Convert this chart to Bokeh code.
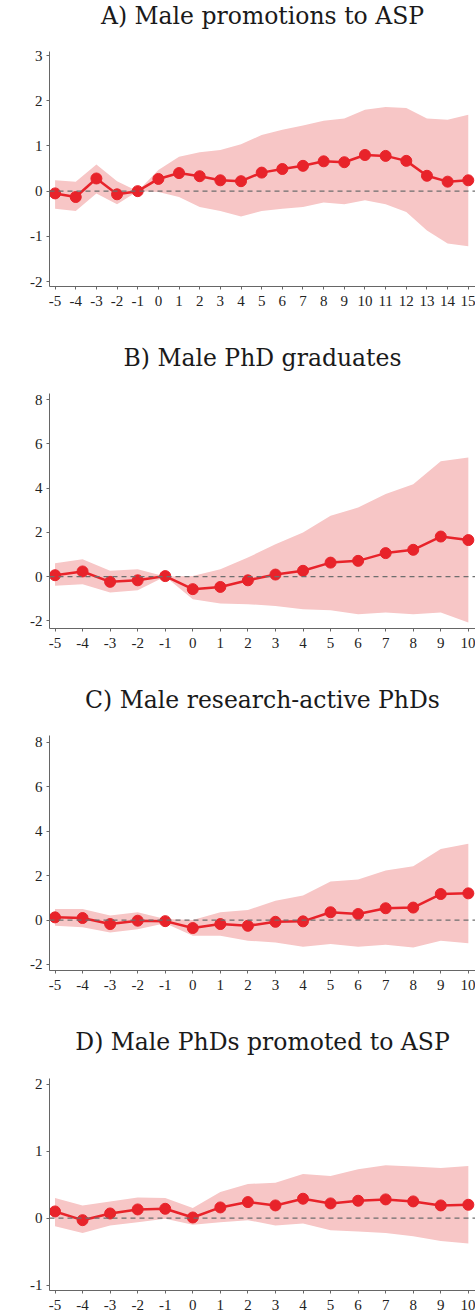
from bokeh.plotting import figure
from bokeh.layouts import column
from bokeh.models import FixedTicker, Span, ColumnDataSource, Title
from bokeh.embed import file_html
from bokeh.resources import INLINE

# ---------------- data ----------------
titles = ["A) Male promotions to ASP", "B) Male PhD graduates",
          "C) Male research-active PhDs", "D) Male PhDs promoted to ASP"]

years_a = [-5, -4, -3, -2, -1, 0, 1, 2, 3, 4, 5, 6, 7, 8, 9, 10, 11, 12, 13, 14, 15]
coef_a = [-0.05, -0.13, 0.28, -0.07, 0.0, 0.27, 0.40, 0.33, 0.24, 0.22, 0.41,
          0.49, 0.56, 0.66, 0.64, 0.80, 0.78, 0.67, 0.34, 0.21, 0.24]
upper_a = [0.24, 0.21, 0.59, 0.22, 0.0, 0.47, 0.76, 0.86, 0.91, 1.04, 1.24,
           1.36, 1.45, 1.56, 1.61, 1.80, 1.86, 1.84, 1.61, 1.58, 1.69]
lower_a = [-0.39, -0.44, -0.05, -0.29, 0.0, -0.02, -0.13, -0.35, -0.44, -0.56, -0.44,
           -0.39, -0.35, -0.25, -0.29, -0.20, -0.29, -0.46, -0.87, -1.16, -1.22]

years_b = [-5, -4, -3, -2, -1, 0, 1, 2, 3, 4, 5, 6, 7, 8, 9, 10]
coef_b = [0.06, 0.23, -0.24, -0.17, 0.02, -0.57, -0.47, -0.17, 0.09, 0.26,
          0.63, 0.71, 1.06, 1.21, 1.81, 1.65]
upper_b = [0.60, 0.78, 0.26, 0.33, 0.0, 0.03, 0.33, 0.86, 1.46, 1.99,
           2.75, 3.12, 3.73, 4.18, 5.21, 5.39]
lower_b = [-0.42, -0.35, -0.72, -0.62, 0.0, -1.03, -1.22, -1.25, -1.33, -1.48,
           -1.52, -1.71, -1.63, -1.71, -1.63, -2.08]

years_c = [-5, -4, -3, -2, -1, 0, 1, 2, 3, 4, 5, 6, 7, 8, 9, 10]
coef_c = [0.12, 0.09, -0.18, -0.03, -0.05, -0.36, -0.18, -0.26, -0.08, -0.06,
          0.35, 0.27, 0.53, 0.56, 1.17, 1.20]
upper_c = [0.50, 0.50, 0.20, 0.35, 0.05, 0.0, 0.35, 0.45, 0.87, 1.10,
           1.73, 1.82, 2.23, 2.42, 3.20, 3.43]
lower_c = [-0.26, -0.33, -0.56, -0.41, -0.15, -0.71, -0.71, -0.93, -1.01, -1.20,
           -1.08, -1.20, -1.11, -1.23, -0.93, -1.04]

years_d = [-5, -4, -3, -2, -1, 0, 1, 2, 3, 4, 5, 6, 7, 8, 9, 10]
coef_d = [0.10, -0.03, 0.07, 0.13, 0.14, 0.01, 0.16, 0.24, 0.19, 0.29,
          0.22, 0.26, 0.28, 0.25, 0.19, 0.20]
upper_d = [0.30, 0.19, 0.25, 0.31, 0.30, 0.15, 0.39, 0.51, 0.53, 0.66,
           0.63, 0.73, 0.79, 0.77, 0.75, 0.78]
lower_d = [-0.12, -0.22, -0.11, -0.06, -0.01, -0.10, -0.06, -0.03, -0.11, -0.08,
           -0.18, -0.20, -0.22, -0.27, -0.34, -0.38]

yticks_a = [-2, -1, 0, 1, 2, 3]
yticks_b = [-2, 0, 2, 4, 6, 8]
yticks_c = [-2, 0, 2, 4, 6, 8]
yticks_d = [-1, 0, 1, 2]

BAND = "#f7c6c6"
RED = "#e8232a"
AXIS = "#666666"


def lbl(ticks):
    return {t: str(t) for t in ticks}


def panel(title, xs, coef, up, lo, xrng, yrng, yticks, height, gap, bottom):
    p = figure(width=475, height=height, x_range=xrng, y_range=yrng,
               output_backend="svg", toolbar_location=None, title=None,
               min_border_left=49, min_border_right=0, min_border_top=0,
               min_border_bottom=bottom)
    # spacer between frame and title (added first -> closest to frame)
    p.add_layout(Title(text=" ", text_font_size="1px", standoff=gap), "above")
    t = Title(text=title, align="center", vertical_align="top",
              text_font="DejaVu Serif", text_font_style="normal",
              text_font_size="23.5px", text_color="#1a1a1a", standoff=3)
    p.add_layout(t, "above")
    p.outline_line_color = None
    p.xgrid.visible = False
    p.ygrid.visible = False
    p.background_fill_color = "white"
    p.border_fill_color = "white"

    src = ColumnDataSource(dict(x=xs, y=coef, up=up, lo=lo))
    p.varea(x="x", y1="lo", y2="up", source=src, fill_color=BAND, fill_alpha=1.0)
    p.add_layout(Span(location=0, dimension="width", line_color="#6e6e6e",
                      line_dash="5 4", line_width=1.3))
    p.line(x="x", y="y", source=src, line_color=RED, line_width=2.5)
    p.scatter(x="x", y="y", source=src, size=11, fill_color=RED,
              line_color=RED, marker="circle")

    p.xaxis.ticker = FixedTicker(ticks=xs)
    p.yaxis.ticker = FixedTicker(ticks=yticks)
    p.xaxis.major_label_overrides = lbl(xs)
    p.yaxis.major_label_overrides = lbl(yticks)
    for ax in (p.xaxis, p.yaxis):
        ax.axis_line_color = AXIS
        ax.major_tick_line_color = AXIS
        ax.minor_tick_line_color = None
        ax.major_tick_out = 3
        ax.major_tick_in = 0
        ax.major_label_text_font = "Liberation Serif"
        ax.major_label_text_font_size = "15px"
        ax.major_label_text_color = "#222222"
        ax.major_label_standoff = 4
    p.xaxis.major_label_standoff = 6
    return p


pa = panel(titles[0], years_a, coef_a, upper_a, lower_a, (-5.27, 15.35), (-2.11, 3.09),
           yticks_a, 342, 15, 56)
pb = panel(titles[1], years_b, coef_b, upper_b, lower_b, (-5.20, 10.26), (-2.35, 8.28),
           yticks_b, 342, 15, 56)
pc = panel(titles[2], years_c, coef_c, upper_c, lower_c, (-5.20, 10.26), (-2.27, 8.30),
           yticks_c, 342, 15, 56)
pd = panel(titles[3], years_d, coef_d, upper_d, lower_d, (-5.20, 10.26), (-1.08, 2.085),
           yticks_d, 288, 16, 24)

layout = column(pa, pb, pc, pd, spacing=0)
open("out.html", "w").write(file_html(layout, INLINE))
